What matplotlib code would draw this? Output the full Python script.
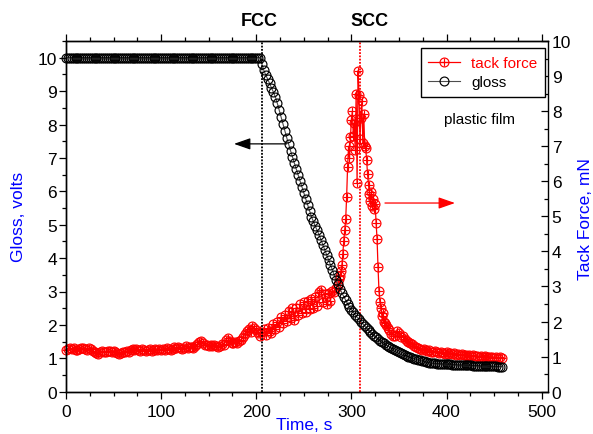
import numpy as np
import matplotlib
matplotlib.use('Agg')
import matplotlib.pyplot as plt
from matplotlib.legend_handler import HandlerTuple
from matplotlib.ticker import MultipleLocator
from matplotlib.transforms import blended_transform_factory

plt.rcParams['font.family'] = ['Liberation Sans', 'DejaVu Sans']

# ---------------- data ----------------
gloss_time = np.arange(0, 460, 2)
gloss_flat = [
    10.0, 10.0, 10.0, 10.0, 10.0, 10.0, 10.0, 10.0, 10.0, 10.0,
    10.0, 10.0, 10.0, 10.0, 10.0, 10.0, 10.0, 10.0, 10.0, 10.0,
    10.0, 10.0, 10.0, 10.0, 10.0, 10.0, 10.0, 10.0, 10.0, 10.0,
    10.0, 10.0, 10.0, 10.0, 10.0, 10.0, 10.0, 10.0, 10.0, 10.0,
    10.0, 10.0, 10.0, 10.0, 10.0, 10.0, 10.0, 10.0, 10.0, 10.0,
    10.0, 10.0, 10.0, 10.0, 10.0, 10.0, 10.0, 10.0, 10.0, 10.0,
    10.0, 10.0, 10.0, 10.0, 10.0, 10.0, 10.0, 10.0, 10.0, 10.0,
    10.0, 10.0, 10.0, 10.0, 10.0, 10.0, 10.0, 10.0, 10.0, 10.0,
    10.0, 10.0, 10.0, 10.0, 10.0, 10.0, 10.0, 10.0, 10.0, 10.0,
    10.0, 10.0, 10.0, 10.0, 10.0, 10.0, 10.0, 10.0, 10.0, 10.0,
    10.0, 10.0,
]
gloss_decline = [
    10.00, 9.80, 9.62, 9.48, 9.36, 9.23, 9.10, 8.97, 8.83, 8.65,
    8.44, 8.22, 8.01, 7.81, 7.61, 7.41, 7.22, 7.03, 6.85, 6.67,
    6.49, 6.31, 6.13, 5.95, 5.77, 5.59, 5.40, 5.24, 5.10, 4.96,
    4.83, 4.70, 4.55, 4.40, 4.25, 4.10, 3.95, 3.80, 3.65, 3.49,
    3.34, 3.21, 3.08, 2.96, 2.85, 2.74, 2.63, 2.54, 2.46, 2.38,
    2.30, 2.23, 2.17, 2.10, 2.04, 1.97, 1.90, 1.84, 1.78, 1.73,
    1.68, 1.63, 1.58, 1.53, 1.49, 1.45, 1.41, 1.37, 1.34, 1.30,
    1.27, 1.24, 1.21, 1.18, 1.15, 1.12, 1.09, 1.07, 1.05, 1.03,
    1.01, 0.99, 0.97, 0.95, 0.94, 0.92, 0.91, 0.89, 0.88, 0.87,
    0.86, 0.85, 0.85, 0.84, 0.84, 0.83, 0.83, 0.83, 0.82, 0.82,
    0.82, 0.81, 0.81, 0.81, 0.80, 0.80, 0.80, 0.80, 0.79, 0.79,
    0.79, 0.79, 0.78, 0.78, 0.78, 0.78, 0.77, 0.77, 0.77, 0.77,
    0.76, 0.76, 0.76, 0.76, 0.76, 0.75, 0.75, 0.75,
]
gloss_values = gloss_flat + gloss_decline

tack_time = np.concatenate([np.arange(0, 286, 2),
                            np.arange(286, 336, 1),
                            np.arange(336, 460, 2)])
tack_rise = [
    1.20, 1.22, 1.25, 1.21, 1.24, 1.20, 1.18, 1.23, 1.26, 1.24, 1.21, 1.19, 1.24, 1.22, 1.17, 1.13,
    1.10, 1.08, 1.12, 1.15, 1.12, 1.14, 1.17, 1.15, 1.12, 1.16, 1.13, 1.09, 1.07, 1.10, 1.14,
    1.12, 1.16, 1.14, 1.18, 1.22, 1.18, 1.23, 1.20, 1.17, 1.22, 1.19, 1.15, 1.18, 1.21, 1.17, 1.20, 1.23, 1.19, 1.22, 1.20,
    1.23, 1.20, 1.25, 1.21, 1.18, 1.23, 1.27, 1.24, 1.28, 1.25, 1.23, 1.26, 1.29, 1.25, 1.27,
    1.28, 1.25, 1.30, 1.36, 1.42, 1.44, 1.38, 1.32, 1.34, 1.30, 1.33, 1.29, 1.33, 1.30, 1.28,
    1.31, 1.35, 1.33, 1.48, 1.53, 1.45, 1.38, 1.40, 1.42, 1.38, 1.44, 1.48, 1.55, 1.65, 1.72,
    1.78, 1.70, 1.88, 1.82, 1.76, 1.68, 1.58, 1.70, 1.78, 1.62, 1.82, 1.74, 1.68, 1.92, 1.80,
    2.00, 1.85, 2.12, 1.95, 2.20, 2.02, 2.30, 2.10, 2.38, 2.05, 2.40, 2.18, 2.50, 2.25, 2.55,
    2.28, 2.60, 2.35, 2.65, 2.40, 2.70, 2.45, 2.85, 2.90, 2.55, 2.78, 2.50, 2.82, 2.60, 2.88,
    2.85, 2.95,
]
tack_peak = [
    3.05, 3.20, 3.30, 3.45, 3.60, 3.93, 4.31, 4.60, 4.92, 5.55,
    6.40, 7.00, 6.65, 7.25, 7.75, 8.00, 7.30, 7.65, 6.90, 8.50,
    5.95, 9.15, 8.45, 7.20, 7.80, 8.30, 7.10, 7.92, 7.00, 6.95,
    6.62, 6.20, 5.90, 5.65, 5.45, 5.70, 5.30, 5.50, 5.20, 5.35,
    4.80, 4.35, 3.55, 2.88, 2.55, 2.40, 2.17, 2.25, 2.00, 1.95,
]
tack_tail = [
    1.90, 1.82, 1.75, 1.65, 1.60, 1.58, 1.72, 1.68, 1.55, 1.60,
    1.50, 1.45, 1.42, 1.38, 1.35, 1.30, 1.28, 1.25, 1.22, 1.20,
    1.22, 1.18, 1.15, 1.18, 1.14, 1.12, 1.15, 1.12, 1.10, 1.14,
    1.10, 1.08, 1.12, 1.08, 1.10, 1.07, 1.09, 1.06, 1.08, 1.05,
    1.08, 1.04, 1.06, 1.03, 1.05, 1.02, 1.04, 1.01, 1.03, 1.00,
    1.02, 0.99, 1.01, 0.98, 1.00, 0.98, 1.00, 0.97, 0.99, 0.97,
    0.98, 0.96,
]
tack_values = tack_rise + tack_peak + tack_tail

fcc_time = 206.3
scc_time = 309.0
series_labels = ['tack force', 'gloss']

# ---------------- figure ----------------
W, H = 593, 435
fig = plt.figure(figsize=(W / 100, H / 100), dpi=100)
rect = [66 / W, (H - 392.7) / H, (548.3 - 66) / W, (392.7 - 42) / H]
ax = fig.add_axes(rect)
ax2 = ax.twinx()
ax.set_zorder(ax2.get_zorder() + 1)
ax.patch.set_visible(False)

blue = '#0000ff'
MS = 6.4

# tack force (right axis)
tack_c, = ax2.plot(tack_time, tack_values, '-', color='red', lw=0.9,
                   marker='o', mfc='none', mec='red', ms=MS, mew=0.85,
                   clip_on=False)
tack_p, = ax2.plot(tack_time, tack_values, ls='none', marker='+',
                   color='red', ms=MS, mew=0.85, clip_on=False)
ax2.axvline(scc_time, color='red', ls=(0, (1, 0.8)), lw=1.3)
ax2.annotate('', xy=(408.9, 5.38), xytext=(335.3, 5.38),
             arrowprops=dict(arrowstyle='-|>,head_length=1.0,head_width=0.35',
                             color='red', lw=0.9, mutation_scale=10,
                             shrinkA=0, shrinkB=0))

# gloss (left axis)
gloss_l, = ax.plot(gloss_time, gloss_values, '-', color='0.3', lw=0.8,
                   marker='o', mfc='none', mec='black', ms=MS, mew=0.85,
                   clip_on=False)
ax.axvline(fcc_time, color='black', ls=(0, (1, 0.8)), lw=1.3)
ax.annotate('', xy=(176.6, 7.42), xytext=(232, 7.42),
            arrowprops=dict(arrowstyle='-|>,head_length=1.0,head_width=0.35',
                            color='black', lw=0.9, mutation_scale=10,
                            shrinkA=0, shrinkB=0))

# limits and ticks
ax.set_xlim(0, 507)
ax.set_ylim(0, 10.5)
ax2.set_ylim(0, 10)
ax.xaxis.set_major_locator(MultipleLocator(100))
ax.xaxis.set_minor_locator(MultipleLocator(25))
ax.yaxis.set_major_locator(MultipleLocator(1))
ax.yaxis.set_minor_locator(MultipleLocator(0.5))
ax2.yaxis.set_major_locator(MultipleLocator(1))
ax2.yaxis.set_minor_locator(MultipleLocator(0.5))

ax.tick_params(axis='x', which='both', direction='out', top=True, bottom=True,
               labelsize=12.5, pad=3.5)
ax.tick_params(axis='y', which='both', direction='out', left=True, right=False,
               labelsize=12.5, pad=1.5)
ax.tick_params(which='major', length=5, width=0.9)
ax.tick_params(which='minor', length=3, width=0.9)
ax2.tick_params(axis='y', which='both', direction='in', right=True,
                labelsize=12.5, pad=2.5)
ax2.tick_params(which='major', length=5, width=0.9)
ax2.tick_params(which='minor', length=3, width=0.9)
for a in (ax, ax2):
    for s in a.spines.values():
        s.set_linewidth(1.0)
ax.spines['right'].set_visible(False)

# labels
ax.set_xlabel('Time, s', color=blue, fontsize=12.5)
ax.xaxis.label.set_verticalalignment('baseline')
ax.xaxis.set_label_coords(0.4935, -0.107)
ax.set_ylabel('Gloss, volts', color=blue, fontsize=12.5)
ax.yaxis.label.set_verticalalignment('center')
ax.yaxis.set_label_coords(-0.0995, 0.501)
ax2.set_ylabel('Tack Force, mN', color=blue, fontsize=12.5)
ax2.yaxis.label.set_verticalalignment('center')
ax2.yaxis.set_label_coords(1.078, 0.494)

trans = blended_transform_factory(ax.transData, ax.transAxes)
ax.text(203.6, 1.058, 'FCC', transform=trans, ha='center', va='center',
        fontsize=13, fontweight='bold')
ax.text(319.2, 1.058, 'SCC', transform=trans, ha='center', va='center',
        fontsize=13, fontweight='bold')
ax.text(434.7, 0.778, 'plastic film', transform=trans, ha='center',
        va='center', fontsize=11)

leg = ax.legend(handles=[(tack_c, tack_p), gloss_l], labels=series_labels,
                handler_map={tuple: HandlerTuple(ndivide=1)},
                loc='upper left', bbox_to_anchor=(420.7 / W, 1 - 49.3 / H),
                bbox_transform=fig.transFigure, borderaxespad=0,
                fancybox=False, edgecolor='black', framealpha=1,
                fontsize=11, handlelength=2.1, handletextpad=0.7,
                borderpad=0.5, labelspacing=0.35)
leg.get_frame().set_linewidth(1.0)
leg.get_texts()[0].set_color('red')

fig.savefig('out.png', dpi=100)
